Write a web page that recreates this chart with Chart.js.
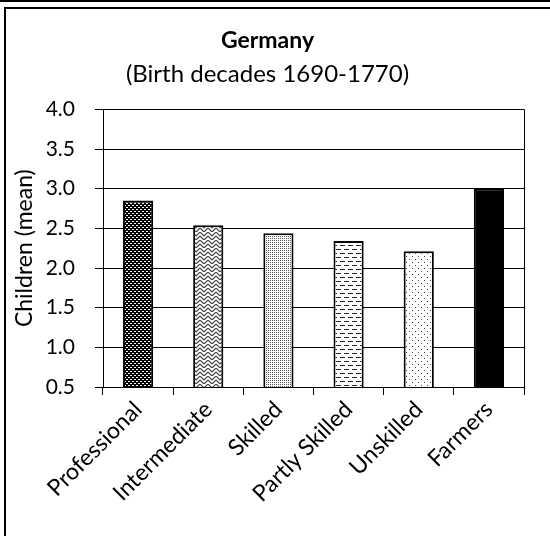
<!DOCTYPE html>
<html>
<head>
<meta charset="utf-8">
<script src="https://cdn.jsdelivr.net/npm/chart.js@4"></script>
<style>
  body { margin: 0; background: #fff; }
  #wrap { position: absolute; left: 0; top: 0; width: 550px; height: 536px; }
  #chart { position: absolute; left: 0; top: 0; }
  .line { position: absolute; background: #000; }
</style>
</head>
<body>
<div id="wrap">
  <canvas id="chart" width="550" height="536"></canvas>
  <!-- frame lines -->
  <div class="line" style="left:0;top:0;width:550px;height:2px;"></div>
  <div class="line" style="left:0;top:0;width:2px;height:2px;"></div>
  <div class="line" style="left:4px;top:7px;width:546px;height:2px;"></div>
  <div class="line" style="left:4px;top:7px;width:2px;height:529px;"></div>
</div>
<script>
//=================================================================
// DATA
//=================================================================
const categories = ['Professional', 'Intermediate', 'Skilled', 'Partly Skilled', 'Unskilled', 'Farmers'];
const childrenMean = [2.85, 2.54, 2.44, 2.34, 2.21, 3.0];
const yTicks = [0.5, 1.0, 1.5, 2.0, 2.5, 3.0, 3.5, 4.0];

//=================================================================
// PATTERNS (Excel style fills)
//=================================================================
function makePattern(w, h, draw) {
    const c = document.createElement('canvas');
    c.width = w; c.height = h;
    const g = c.getContext('2d');
    g.fillStyle = '#fff';
    g.fillRect(0, 0, w, h);
    draw(g);
    return document.getElementById('chart').getContext('2d').createPattern(c, 'repeat');
}

const patProfessional = makePattern(4, 4, g => {
    g.fillStyle = '#000';
    g.fillRect(0, 0, 4, 4);
    g.fillStyle = '#fff';
    g.fillRect(0, 1, 2, 1);
    g.fillRect(2, 3, 2, 1);
});
const patIntermediate = makePattern(8, 8, g => {
    g.strokeStyle = '#444';
    g.lineWidth = 1.2;
    g.beginPath();
    g.moveTo(0, 0); g.lineTo(4, 4); g.lineTo(8, 0);
    g.moveTo(0, 4); g.lineTo(4, 8); g.lineTo(8, 4);
    g.stroke();
});
const patSkilled = makePattern(2, 2, g => {
    g.fillStyle = '#555';
    g.fillRect(0, 0, 1, 1);
});
const patPartly = makePattern(8, 8, g => {
    g.fillStyle = '#222';
    g.fillRect(0, 1, 5, 1);
    g.fillRect(4, 5, 4, 1);
    g.fillRect(0, 5, 1, 1);
});
const patUnskilled = makePattern(6, 6, g => {
    g.fillStyle = '#444';
    g.fillRect(1, 1, 1, 1);
    g.fillRect(4, 4, 1, 1);
});

const fills = [patProfessional, patIntermediate, patSkilled, patPartly, patUnskilled, '#000'];

//=================================================================
// right border of the plot area
//=================================================================
const plotBorder = {
    id: 'plotBorder',
    afterDraw(chart) {
        const a = chart.chartArea;
        const ctx = chart.ctx;
        ctx.save();
        ctx.strokeStyle = '#000';
        ctx.lineWidth = 1;
        ctx.beginPath();
        ctx.moveTo(Math.round(a.right) + 0.5, a.top);
        ctx.lineTo(Math.round(a.right) + 0.5, a.bottom);
        ctx.stroke();
        ctx.restore();
    }
};

//=================================================================
// CHART
//=================================================================
const FONT = 'Lato, "Open Sans", sans-serif';

new Chart(document.getElementById('chart'), {
    type: 'bar',
    data: {
        labels: categories,
        datasets: [{
            label: 'Children (mean)',
            data: childrenMean,
            backgroundColor: fills,
            borderColor: '#000',
            borderWidth: 2,
            borderSkipped: false,
            categoryPercentage: 1,
            barPercentage: 0.43
        }]
    },
    options: {
        responsive: false,
        animation: false,
        layout: { padding: { left: 11, right: 26, top: 27, bottom: 0 } },
        plugins: {
            legend: { display: false },
            tooltip: { enabled: false },
            title: {
                display: true,
                text: 'Germany',
                color: '#000',
                font: { family: FONT, size: 23, weight: 'bold' },
                padding: { top: 0, bottom: 5 }
            },
            subtitle: {
                display: true,
                text: '(Birth decades 1690-1770)',
                color: '#000',
                font: { family: FONT, size: 24 },
                padding: { top: 0, bottom: 21 }
            }
        },
        scales: {
            x: {
                grid: { drawOnChartArea: false, offset: true, color: '#000', tickLength: 8 },
                border: { color: '#000', width: 1 },
                ticks: {
                    color: '#000',
                    font: { family: FONT, size: 23 },
                    minRotation: 45,
                    maxRotation: 45,
                    padding: 1
                },
                afterFit: axis => {
                    axis.paddingLeft = 0;
                    axis.paddingRight = 0;
                    axis.height = 149;
                }
            },
            y: {
                min: 0.5,
                max: 4.0,
                afterBuildTicks: axis => { axis.ticks = yTicks.map(v => ({ value: v })); },
                grid: { color: '#000', lineWidth: 1, tickLength: 8 },
                border: { color: '#000', width: 1 },
                ticks: {
                    color: '#000',
                    font: { family: FONT, size: 21 },
                    padding: 20,
                    callback: v => Number(v).toFixed(1)
                },
                title: {
                    display: true,
                    text: 'Children (mean)',
                    color: '#000',
                    font: { family: FONT, size: 23 },
                    padding: { top: 0, bottom: 9 }
                },
                afterFit: axis => {
                    axis.width = 92;
                }
            }
        }
    },
    plugins: [plotBorder]
});
</script>
</body>
</html>
